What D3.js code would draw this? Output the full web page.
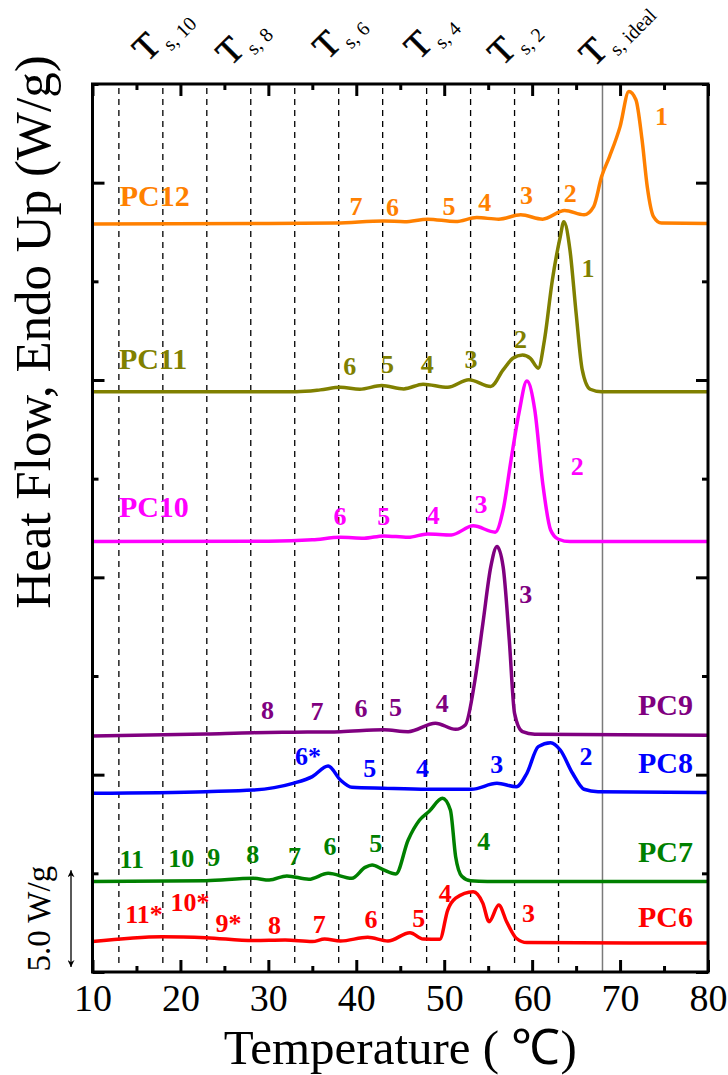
<!DOCTYPE html>
<html>
<head>
<meta charset="utf-8">
<script src="https://cdn.jsdelivr.net/npm/d3@7"></script>
<style>
  html, body { margin: 0; padding: 0; background: #fff; }
  svg { display: block; }
</style>
</head>
<body>
<svg id="chart" width="728" height="1075"></svg>
<script>
// ---- DSC heating scans (heat flow offset per sample, W/g) ----
const seriesNames = ["PC12", "PC11", "PC10", "PC9", "PC8", "PC7", "PC6"];

const pc12T  = [10, 30, 37.7, 43.1, 45.5, 48.1, 51.3, 53.7, 56.2, 58.7, 61.2, 63.7, 65.9, 67.0, 67.9, 68.8, 70.0, 71.0, 71.8, 72.5, 73.1, 73.8, 74.7, 80];
const pc12HF = [37.91, 37.93, 37.95, 38.06, 38.02, 38.15, 38.03, 38.23, 38.15, 38.37, 38.15, 38.59, 38.37, 38.79, 40.31, 41.32, 42.84, 44.62, 44.2, 42.17, 39.77, 38.28, 37.95, 37.93];

const pc11T  = [10, 30, 33.2, 35.9, 38.2, 40.4, 42.9, 45.4, 47.6, 50.4, 52.8, 55.3, 56.7, 57.8, 58.9, 59.8, 60.7, 61.4, 62.3, 63.2, 63.6, 64.3, 65.0, 65.7, 66.6, 67.9, 80];
const pc11HF = [29.40, 29.41, 29.41, 29.50, 29.63, 29.53, 29.72, 29.55, 29.79, 29.63, 30.01, 29.67, 30.51, 31.10, 31.27, 31.10, 30.60, 32.03, 35.07, 37.27, 38.02, 36.59, 33.39, 30.51, 29.53, 29.40, 29.40];

const pc10T  = [10, 30, 35, 38.2, 40.9, 43.1, 45.9, 48.1, 50.8, 53.3, 55.8, 56.7, 57.6, 58.5, 59.4, 60.3, 61.2, 62.1, 63.0, 64.3, 80];
const pc10HF = [21.81, 21.83, 21.90, 22.03, 21.98, 22.10, 22.03, 22.20, 22.15, 22.61, 22.29, 23.42, 25.95, 28.32, 29.95, 28.48, 24.77, 22.40, 21.93, 21.81, 21.81];

const pc9T  = [10, 22.9, 28.3, 32.9, 38.2, 43.1, 45.9, 49.0, 51.3, 52.4, 53.5, 54.4, 55.3, 56.0, 56.7, 57.4, 58.0, 58.9, 60.3, 80];
const pc9HF = [11.96, 12.06, 12.13, 12.15, 12.18, 12.27, 12.18, 12.61, 12.30, 12.52, 14.80, 17.67, 20.54, 21.56, 20.54, 16.83, 13.11, 12.18, 12.05, 12.00];

const pc8T  = [10, 22.9, 28.3, 32.8, 35.0, 36.8, 38.2, 39.5, 43.1, 48.1, 53.1, 56.0, 58.2, 59.4, 60.7, 62.1, 63.2, 64.6, 65.9, 67.5, 80];
const pc8HF = [9.06, 9.14, 9.22, 9.56, 9.90, 10.44, 9.73, 9.36, 9.31, 9.26, 9.26, 9.56, 9.39, 10.07, 11.42, 11.62, 11.25, 10.07, 9.26, 9.14, 9.10];

const pc7T  = [10, 22.9, 28.3, 30.1, 32.1, 34.6, 36.8, 39.5, 41.0, 41.8, 43.0, 44.5, 45.9, 47.2, 48.3, 49.8, 50.7, 51.3, 52.0, 53.0, 54.9, 80];
const pc7HF = [4.58, 4.63, 4.75, 4.66, 4.87, 4.70, 5.00, 4.75, 5.30, 5.42, 5.20, 4.97, 6.69, 7.70, 8.15, 8.80, 8.21, 5.84, 4.85, 4.62, 4.58, 4.58];

const pc6T  = [10, 17.9, 22.9, 28.3, 31.9, 35.0, 36.4, 38.2, 41.3, 43.6, 46.1, 47.6, 49.5, 50.4, 51.3, 53.3, 54.4, 55.1, 56.2, 57.1, 58.2, 59.4, 80];
const pc6HF = [1.54, 1.79, 1.74, 1.59, 1.62, 1.54, 1.67, 1.57, 1.76, 1.57, 1.99, 1.67, 1.66, 3.14, 3.74, 4.07, 3.48, 2.55, 3.40, 2.55, 1.71, 1.49, 1.47];

// axis ticks and stage guides (temperature, deg C)
const xTickValues = [10, 20, 30, 40, 50, 60, 70, 80];
const stageTemps  = [13, 18, 23, 28, 33, 38, 43, 48, 53, 58, 63];
const idealTemp   = 68;
const stageSubs   = ["s, 10", "s, 8", "s, 6", "s, 4", "s, 2", "s, ideal"];

// peak numbering for each scan: [label, T, HF]
const peakLabels = {
  PC12: [["1", 74.7, 42.92], ["2", 64.33, 39.04], ["3", 59.36, 38.92], ["4", 54.62, 38.58], ["5", 50.54, 38.37], ["6", 44.11, 38.31], ["7", 39.96, 38.37]],
  PC11: [["1", 66.35, 35.24], ["2", 58.69, 31.61], ["3", 53.05, 30.59], ["4", 48.08, 30.37], ["5", 43.56, 30.37], ["6", 39.27, 30.25]],
  PC10: [["2", 65.13, 25.19], ["3", 54.17, 23.25], ["4", 48.76, 22.70], ["5", 43.12, 22.65], ["6", 38.15, 22.65]],
  PC9:  [["3", 59.27, 18.71], ["4", 49.79, 13.16], ["5", 44.47, 12.99], ["6", 40.54, 12.91], ["7", 35.53, 12.77], ["8", 29.89, 12.81]],
  PC8:  [["2", 66.12, 10.49], ["3", 55.97, 10.07], ["4", 47.53, 9.90], ["5", 41.54, 9.87], ["6*", 34.51, 10.49]],
  PC7:  [["4", 54.49, 6.18], ["5", 42.21, 6.10], ["6", 37.01, 5.93], ["7", 32.96, 5.42], ["8", 28.22, 5.54], ["9", 23.80, 5.37], ["10", 20.10, 5.34], ["11", 14.46, 5.26]],
  PC6:  [["3", 59.58, 2.55], ["4", 50.11, 3.53], ["5", 47.09, 2.30], ["6", 41.67, 2.21], ["7", 35.80, 1.96], ["8", 30.70, 1.93], ["9*", 25.47, 2.03], ["10*", 21.09, 3.09], ["11*", 15.86, 2.48]]
};

// ---- styling / layout ----
const seriesColors = {
  PC12: "#ff8000", PC11: "#808000", PC10: "#ff00ff", PC9: "#800080",
  PC8: "#0000ff", PC7: "#008000", PC6: "#ff0000"
};
const seriesData = {
  PC12: [pc12T, pc12HF], PC11: [pc11T, pc11HF], PC10: [pc10T, pc10HF], PC9: [pc9T, pc9HF],
  PC8: [pc8T, pc8HF], PC7: [pc7T, pc7HF], PC6: [pc6T, pc6HF]
};
// name tags: left-aligned for the upper three scans, right-aligned for the rest
const nameTagPos = {
  PC12: [13.1, 38.82, "start"], PC11: [13.0, 30.56, "start"], PC10: [13.0, 23.07, "start"],
  PC9: [78.3, 13.02, "end"], PC8: [78.3, 10.08, "end"], PC7: [78.3, 5.59, "end"], PC6: [78.3, 2.30, "end"]
};
const stageLabelAnchor = [[16.2, 63], [25.7, 67], [36.7, 61], [47.1, 61], [56.6, 67], [67.0, 68]];

const serif = "'Liberation Serif','Times New Roman',Times,serif";
const plot = { left: 92.5, right: 708, top: 84, bottom: 972 };

const x = d3.scaleLinear().domain([10, 80]).range([plot.left, plot.right]);
const y = d3.scaleLinear().domain([0, 45]).range([plot.bottom, plot.top]);

const svg = d3.select("#chart");

// stage guides
svg.append("g")
  .selectAll("line")
  .data(stageTemps)
  .join("line")
  .attr("x1", d => x(d)).attr("x2", d => x(d))
  .attr("y1", plot.top + 4).attr("y2", plot.bottom - 4)
  .attr("stroke", "#000").attr("stroke-width", 1.3)
  .attr("stroke-dasharray", "6,5");

svg.append("line")
  .attr("x1", x(idealTemp)).attr("x2", x(idealTemp))
  .attr("y1", plot.top).attr("y2", plot.bottom)
  .attr("stroke", "#7a7a7a").attr("stroke-width", 1.5);

// curves
const line = d3.line()
  .x(d => x(d[0]))
  .y(d => y(d[1]))
  .curve(d3.curveMonotoneX);

svg.append("g")
  .selectAll("path")
  .data(seriesNames)
  .join("path")
  .attr("d", name => line(d3.zip(seriesData[name][0], seriesData[name][1])))
  .attr("fill", "none")
  .attr("stroke", name => seriesColors[name])
  .attr("stroke-width", 3.5)
  .attr("stroke-linejoin", "round");

// peak numbers
seriesNames.forEach(name => {
  svg.append("g")
    .selectAll("text")
    .data(peakLabels[name])
    .join("text")
    .attr("x", d => x(d[1]))
    .attr("y", d => y(d[2]))
    .attr("text-anchor", "middle")
    .attr("font-family", serif)
    .attr("font-weight", "bold")
    .attr("font-size", 26)
    .attr("fill", seriesColors[name])
    .text(d => d[0]);
});

// sample names
svg.append("g")
  .selectAll("text")
  .data(seriesNames)
  .join("text")
  .attr("x", name => x(nameTagPos[name][0]))
  .attr("y", name => y(nameTagPos[name][1]))
  .attr("text-anchor", name => nameTagPos[name][2])
  .attr("font-family", serif)
  .attr("font-weight", "bold")
  .attr("font-size", 30)
  .attr("fill", name => seriesColors[name])
  .text(name => name);

// axes: inward ticks on all four sides
function tickStyle(g) {
  g.select(".domain").remove();
  g.selectAll(".tick line").attr("stroke", "#000").attr("stroke-width", 3);
}
const xMinor = d3.range(15, 80, 10);
const yMajor = d3.range(0, 46, 10);
const yMinor = d3.range(5, 46, 10);

svg.append("g").attr("transform", `translate(0,${plot.bottom})`)
  .call(d3.axisBottom(x).tickValues(xTickValues).tickSize(-12).tickPadding(12).tickFormat(d3.format("d")))
  .call(tickStyle)
  .call(g => g.selectAll("text")
    .attr("font-family", serif).attr("font-size", 38).attr("fill", "#000"));
svg.append("g").attr("transform", `translate(0,${plot.bottom})`)
  .call(d3.axisBottom(x).tickValues(xMinor).tickSize(-6).tickFormat(""))
  .call(tickStyle);
svg.append("g").attr("transform", `translate(0,${plot.top})`)
  .call(d3.axisTop(x).tickValues(xTickValues).tickSize(-12).tickFormat(""))
  .call(tickStyle);
svg.append("g").attr("transform", `translate(0,${plot.top})`)
  .call(d3.axisTop(x).tickValues(xMinor).tickSize(-6).tickFormat(""))
  .call(tickStyle);
svg.append("g").attr("transform", `translate(${plot.left},0)`)
  .call(d3.axisLeft(y).tickValues(yMajor).tickSize(-12).tickFormat(""))
  .call(tickStyle);
svg.append("g").attr("transform", `translate(${plot.left},0)`)
  .call(d3.axisLeft(y).tickValues(yMinor).tickSize(-6).tickFormat(""))
  .call(tickStyle);
svg.append("g").attr("transform", `translate(${plot.right},0)`)
  .call(d3.axisRight(y).tickValues(yMajor).tickSize(-12).tickFormat(""))
  .call(tickStyle);
svg.append("g").attr("transform", `translate(${plot.right},0)`)
  .call(d3.axisRight(y).tickValues(yMinor).tickSize(-6).tickFormat(""))
  .call(tickStyle);

// frame
svg.append("rect")
  .attr("x", plot.left).attr("y", plot.top)
  .attr("width", plot.right - plot.left).attr("height", plot.bottom - plot.top)
  .attr("fill", "none").attr("stroke", "#000").attr("stroke-width", 3);

// stage labels above the frame
const stage = svg.append("g")
  .selectAll("text")
  .data(stageSubs)
  .join("text")
  .attr("transform", (d, i) => `translate(${x(stageLabelAnchor[i][0])},${stageLabelAnchor[i][1]}) rotate(-45)`)
  .attr("font-family", serif)
  .attr("fill", "#000");
stage.append("tspan").attr("font-size", 36).attr("stroke", "#000").attr("stroke-width", 0.6).text("T");
stage.append("tspan").attr("font-size", 20).attr("dx", 3).attr("dy", 9).text(d => d);

// axis titles
svg.append("text")
  .attr("transform", "translate(50,332) rotate(-90)")
  .attr("text-anchor", "middle")
  .attr("font-family", serif)
  .attr("font-size", 51)
  .attr("fill", "#000")
  .text("Heat Flow, Endo Up (W/g)");

svg.append("text")
  .attr("x", (plot.left + plot.right) / 2)
  .attr("y", 1064)
  .attr("text-anchor", "middle")
  .attr("font-family", serif)
  .attr("font-size", 49)
  .attr("fill", "#000")
  .text("Temperature ( \u2103)");

// 5 W/g scale bar
const defs = svg.append("defs");
defs.append("marker")
  .attr("id", "tip")
  .attr("viewBox", "0 0 10 10")
  .attr("refX", 10).attr("refY", 5)
  .attr("markerWidth", 12).attr("markerHeight", 7)
  .attr("markerUnits", "userSpaceOnUse")
  .attr("orient", "auto-start-reverse")
  .append("path")
  .attr("d", "M0,0 L10,5 L0,10 L3,5 Z")
  .attr("fill", "#000");

svg.append("line")
  .attr("x1", 71).attr("x2", 71)
  .attr("y1", y(5.15)).attr("y2", y(0.25))
  .attr("stroke", "#000").attr("stroke-width", 1.3)
  .attr("marker-start", "url(#tip)")
  .attr("marker-end", "url(#tip)");

svg.append("text")
  .attr("transform", `translate(50,${y(2.7)}) rotate(-90)`)
  .attr("text-anchor", "middle")
  .attr("font-family", serif)
  .attr("font-size", 33)
  .attr("fill", "#000")
  .text("5.0 W/g");
</script>
</body>
</html>
